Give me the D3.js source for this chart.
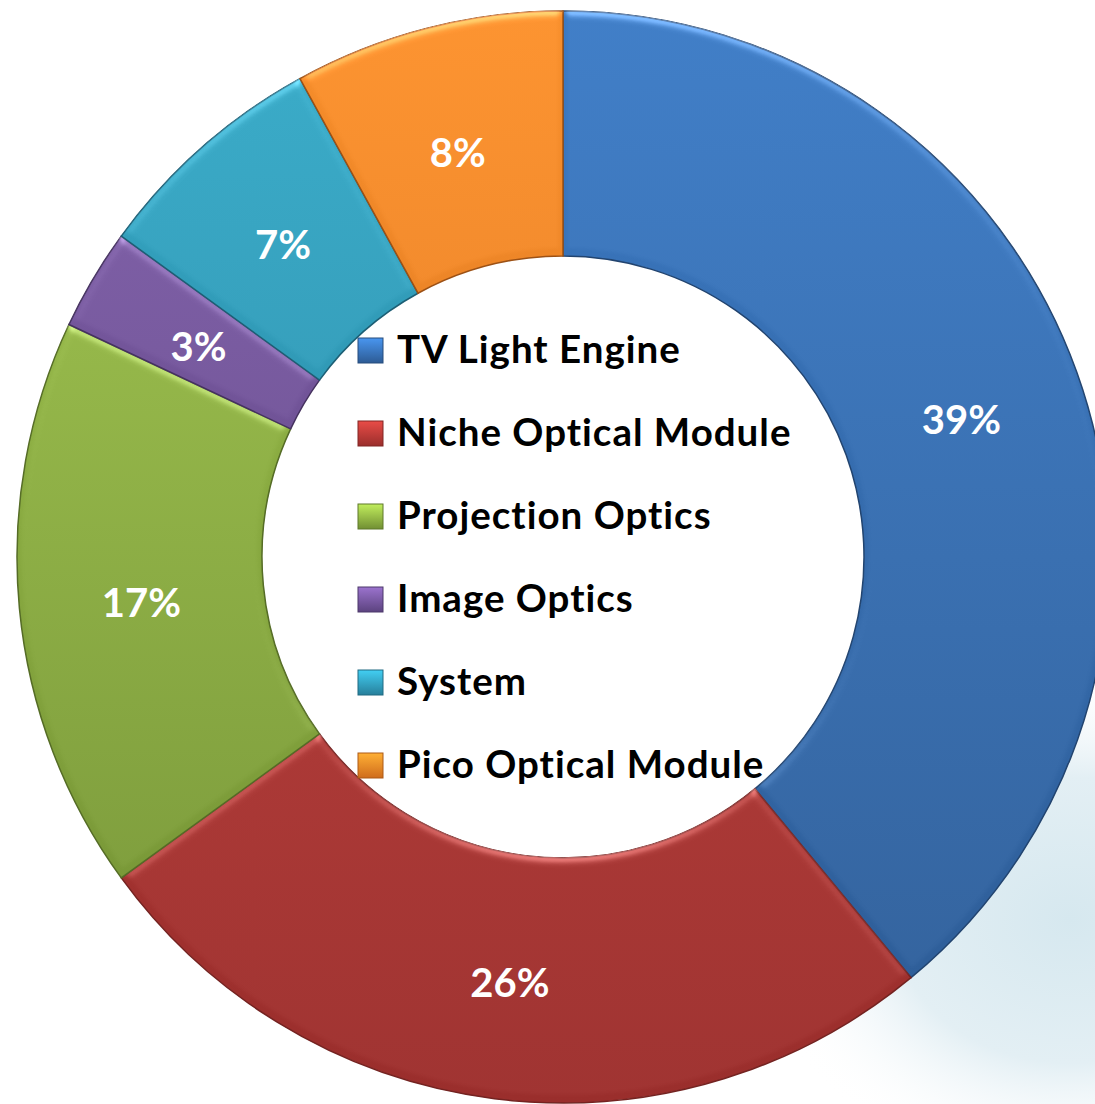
<!DOCTYPE html>
<html>
<head>
<meta charset="utf-8">
<script src="https://cdn.jsdelivr.net/npm/d3@7"></script>
<style>
  body { margin: 0; background: #fff; }
  svg { display: block; }
</style>
</head>
<body>
<svg id="chart" width="1095" height="1104"></svg>
<script>
// data (clockwise from 12 o'clock)
const categories = ["TV Light Engine", "Niche Optical Module", "Projection Optics", "Image Optics", "System", "Pico Optical Module"];
const shares = [39, 26, 17, 3, 7, 8];
const topColors = ["#3b79c2", "#bc3d39", "#9cc04b", "#7d5da6", "#35a7c4", "#f78e2b"];
const bottomColors = ["#2d5b94", "#9a2e2c", "#718f33", "#5c437f", "#277f9b", "#cf6c1c"];

const svg = d3.select("#chart"),
    width = +svg.attr("width"),
    height = +svg.attr("height");

const cx = 563, cy = 557, outerR = 546, innerR = 301;

const defs = svg.append("defs");

// faint sky in the lower right corner
let sky = defs.append("radialGradient").attr("id", "sky")
    .attr("cx", "0.5").attr("cy", "0.5").attr("r", "0.5");
sky.append("stop").attr("offset", "0%").attr("stop-color", "#d6e8ef");
sky.append("stop").attr("offset", "55%").attr("stop-color", "#e3eff4");
sky.append("stop").attr("offset", "100%").attr("stop-color", "#ffffff").attr("stop-opacity", 0);
svg.append("ellipse")
    .attr("cx", 1070).attr("cy", 920)
    .attr("rx", 320).attr("ry", 260)
    .attr("fill", "url(#sky)");

categories.forEach((c, i) => {
    let g = defs.append("linearGradient").attr("id", "grad" + i)
        .attr("gradientUnits", "userSpaceOnUse")
        .attr("x1", 0).attr("y1", -outerR).attr("x2", 0).attr("y2", outerR);
    g.append("stop").attr("offset", "0%").attr("stop-color", topColors[i]);
    g.append("stop").attr("offset", "100%").attr("stop-color", bottomColors[i]);

    let s = defs.append("linearGradient").attr("id", "sw" + i)
        .attr("x1", 0).attr("y1", 0).attr("x2", 0).attr("y2", 1);
    s.append("stop").attr("offset", "0%").attr("stop-color", d3.color(topColors[i]).brighter(0.6));
    s.append("stop").attr("offset", "100%").attr("stop-color", bottomColors[i]);
});

// soft bevel
let bevel = defs.append("filter").attr("id", "bevel")
    .attr("color-interpolation-filters", "sRGB")
    .attr("x", "-5%").attr("y", "-5%").attr("width", "110%").attr("height", "110%");
bevel.append("feGaussianBlur").attr("in", "SourceAlpha").attr("stdDeviation", 4).attr("result", "blur");
bevel.append("feSpecularLighting").attr("in", "blur").attr("surfaceScale", 3)
    .attr("specularConstant", 0.6).attr("specularExponent", 20)
    .attr("lighting-color", "#ffffff").attr("result", "spec")
    .append("feDistantLight").attr("azimuth", 270).attr("elevation", 35);
bevel.append("feComposite").attr("in", "spec").attr("in2", "SourceAlpha")
    .attr("operator", "in").attr("result", "specIn");
bevel.append("feComposite").attr("in", "SourceGraphic").attr("in2", "specIn")
    .attr("operator", "arithmetic").attr("k1", 0).attr("k2", 1).attr("k3", 0.45).attr("k4", 0);

const pie = d3.pie().sort(null).value(d => d);
const arc = d3.arc().innerRadius(innerR).outerRadius(outerR);
const labelArc = d3.arc().innerRadius((innerR + outerR) / 2).outerRadius((innerR + outerR) / 2);

const g = svg.append("g").attr("transform", "translate(" + cx + "," + cy + ")");

g.selectAll("path.slice")
    .data(pie(shares))
    .enter().append("path")
    .attr("class", "slice")
    .attr("d", arc)
    .attr("fill", (d, i) => "url(#grad" + i + ")")
    .attr("stroke", (d, i) => d3.color(bottomColors[i]).darker(0.8))
    .attr("stroke-width", 1.5)
    .attr("filter", "url(#bevel)");

g.selectAll("text.pct")
    .data(pie(shares))
    .enter().append("text")
    .attr("class", "pct")
    .attr("transform", d => "translate(" + labelArc.centroid(d) + ")")
    .attr("dy", "0.5em")
    .attr("text-anchor", "middle")
    .attr("font-family", "Lato, 'Open Sans', sans-serif")
    .attr("font-weight", "bold")
    .attr("font-size", 40)
    .attr("fill", "#ffffff")
    .text(d => d.data + "%");

// legend in the hole
const legendY = d3.scalePoint().domain(categories).range([350, 765]);

const legend = svg.append("g").selectAll("g")
    .data(categories)
    .enter().append("g")
    .attr("transform", d => "translate(358," + legendY(d) + ")");

legend.append("rect")
    .attr("x", 0).attr("y", -12)
    .attr("width", 25).attr("height", 25)
    .attr("fill", (d, i) => "url(#sw" + i + ")")
    .attr("stroke", (d, i) => d3.color(bottomColors[i]).darker(0.5))
    .attr("stroke-width", 1);

legend.append("text")
    .attr("x", 39)
    .attr("dy", "0.33em")
    .attr("font-family", "Lato, 'Open Sans', sans-serif")
    .attr("font-weight", "bold")
    .attr("font-size", 38.5)
    .attr("letter-spacing", 1)
    .attr("fill", "#000")
    .text(d => d);
</script>
</body>
</html>
